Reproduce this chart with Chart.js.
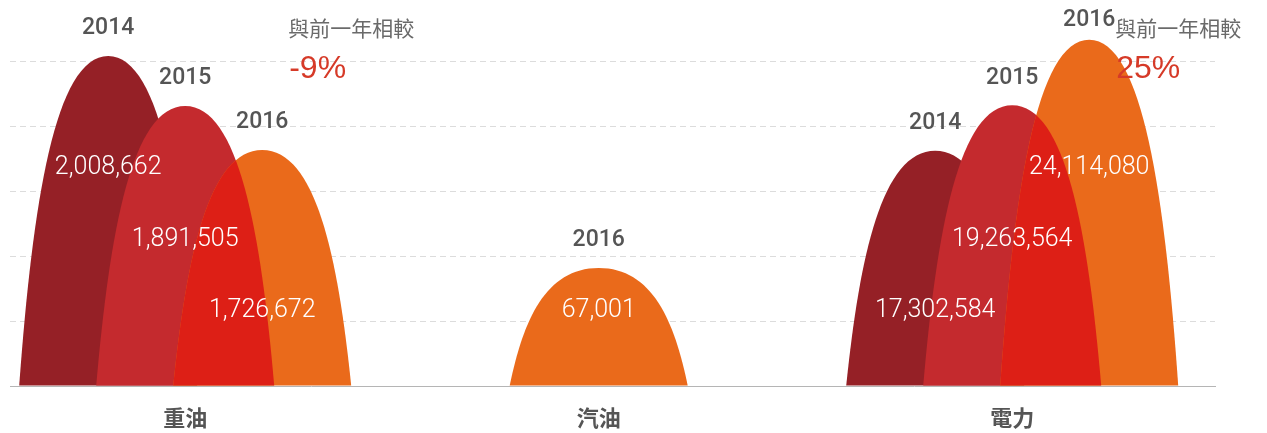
<!DOCTYPE html>
<html>
<head>
<meta charset="utf-8">
<script src="https://cdn.jsdelivr.net/npm/chart.js@4/dist/chart.umd.min.js"></script>
<style>
html,body{margin:0;padding:0;background:#fff;}
#wrap{width:1267px;height:433px;position:relative;}
</style>
</head>
<body>
<div id="wrap"><canvas id="c" width="1267" height="433"></canvas></div>
<script>
// ---- data ----
const categories = ['重油', '汽油', '電力'];
const years = ['2014', '2015', '2016'];
const values2014 = [2008662, null, 17302584];
const values2015 = [1891505, null, 19263564];
const values2016 = [1726672, 67001, 24114080];
// hump heights (grid units)
const heights2014 = [5.09, null, 3.63];
const heights2015 = [4.32, null, 4.33];
const heights2016 = [3.64, 1.82, 5.34];
const compareText = '與前一年相較';

const valueSets = [values2014, values2015, values2016];
const heightSets = [heights2014, heights2015, heights2016];
const colors = ['#952026', '#c42a2e', '#ea6a1b'];
const overlapColor = '#dd1f16';

function humpPath(cx, top, base, hw) {
  const h = base - top;
  const p = new Path2D();
  p.moveTo(cx - hw, base);
  p.bezierCurveTo(cx - hw * 0.85, base - h * 0.55, cx - hw * 0.6, top, cx, top);
  p.bezierCurveTo(cx + hw * 0.6, top, cx + hw * 0.85, base - h * 0.55, cx + hw, base);
  p.closePath();
  return p;
}
function fmt(n) { return n.toLocaleString('en-US'); }

const humpPlugin = {
  id: 'humps',
  afterDatasetsDraw(chart) {
    const ctx = chart.ctx;
    const xs = chart.scales.x, ys = chart.scales.y;
    const unit = xs.getPixelForValue(1) - xs.getPixelForValue(0);
    const hw = 0.2152 * unit;
    const items = chart.data.datasets.map((ds, d) => {
      const meta = chart.getDatasetMeta(d);
      return meta.data.map((el, i) => {
        if (ds.data[i].y == null) return null;
        const pr = el.getProps(['x', 'y', 'base'], true);
        return { x: pr.x, y: pr.y, base: pr.base, path: humpPath(pr.x, pr.y, pr.base, hw) };
      });
    });
    const last = items.length - 1;
    ctx.save();
    items.forEach((arr, d) => arr.forEach((it, i) => {
      if (!it) return;
      ctx.fillStyle = colors[d];
      ctx.fill(it.path);
      // latest year overlapping the previous year gets its own blended tone
      if (d === last && items[d - 1][i]) {
        ctx.save();
        ctx.clip(items[d - 1][i].path);
        ctx.fillStyle = overlapColor;
        ctx.fill(it.path);
        ctx.restore();
      }
    }));
    // year labels
    ctx.textAlign = 'center';
    ctx.textBaseline = 'alphabetic';
    ctx.font = '500 23px Roboto, "Liberation Sans", Arial, sans-serif';
    ctx.fillStyle = '#555555';
    items.forEach((arr, d) => arr.forEach((it) => {
      if (!it) return;
      const cy = Math.max(it.y - 30, 18);
      ctx.fillText(years[d], it.x, cy + 8.2);
    }));
    // value labels, staggered by rank within each category
    ctx.font = '300 25px Roboto, "Liberation Sans", Arial, sans-serif';
    ctx.fillStyle = '#ffffff';
    categories.forEach((c, i) => {
      const present = [];
      heightSets.forEach((hs, d) => { if (hs[i] != null) present.push(d); });
      const sorted = present.slice().sort((a, b) => heightSets[a][i] - heightSets[b][i]);
      sorted.forEach((d, rank) => {
        const it = items[d][i];
        const level = 1.2 + rank * 1.1;
        const cy = ys.getPixelForValue(level);
        ctx.fillText(fmt(valueSets[d][i]), it.x, cy + 8.8);
      });
    });
    // year-over-year comparison
    const top = chart.chartArea.top;
    categories.forEach((c, i) => {
      const prev = values2015[i], cur = values2016[i];
      if (prev == null || cur == null) return;
      const pct = Math.round((cur - prev) / prev * 100);
      const it = items[2][i];
      const lx = it.x + 26;
      ctx.textAlign = 'left';
      ctx.font = '21px "Noto Sans CJK TC", sans-serif';
      ctx.fillStyle = '#6a6a6a';
      ctx.fillText(compareText, lx, top + 12.5);
      ctx.font = '32px "Liberation Sans", Arial, sans-serif';
      ctx.fillStyle = '#d63a28';
      ctx.fillText(pct + '%', lx + 1, top + 54.5);
    });
    ctx.restore();
  }
};

const datasets = years.map((yr, d) => ({
  label: yr,
  data: categories.map((c, i) => ({ x: i, y: heightSets[d][i] })),
  backgroundColor: 'rgba(0,0,0,0)',
  borderWidth: 0,
  skipNull: true,
  categoryPercentage: 0.5587,
  barPercentage: 1
}));

new Chart(document.getElementById('c'), {
  type: 'bar',
  data: { datasets },
  options: {
    responsive: false,
    animation: false,
    events: [],
    layout: { padding: { left: 10, right: 52, top: 23, bottom: 0 } },
    plugins: { legend: { display: false }, tooltip: { enabled: false } },
    scales: {
      x: {
        type: 'linear',
        offset: false,
        min: -0.4237,
        max: 2.4904,
        afterBuildTicks: (s) => { s.ticks = categories.map((c, i) => ({ value: i })); },
        afterFit: (s) => { s.height = 47; },
        grid: { display: false, drawTicks: false, offset: false },
        border: { display: true, color: '#b5b5b5', width: 1 },
        ticks: {
          autoSkip: false,
          maxRotation: 0,
          padding: 18,
          color: '#555555',
          font: { family: '"Noto Sans CJK TC", sans-serif', size: 22, weight: 'bold' },
          callback: (v) => categories[v] ?? ''
        }
      },
      y: {
        min: 0,
        max: 5.6,
        ticks: { display: false, stepSize: 1, includeBounds: false },
        grid: {
          drawTicks: false,
          color: (ctx) => (ctx.tick && ctx.tick.value === 0 ? 'rgba(0,0,0,0)' : '#dcdcdc'),
          lineWidth: 1
        },
        border: { display: false, dash: [6, 4] }
      }
    }
  },
  plugins: [humpPlugin]
});
</script>
</body>
</html>
